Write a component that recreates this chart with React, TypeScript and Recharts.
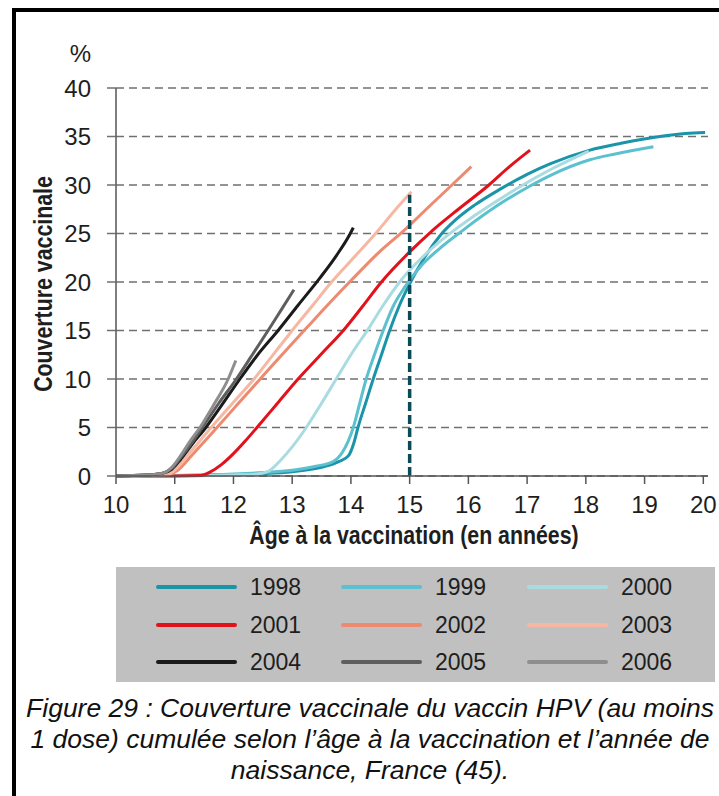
import React from 'react'
import { LineChart, Line, XAxis, YAxis, CartesianGrid, ReferenceLine } from 'recharts'

// birth cohorts and their colours (legend order)
const years = ['1998', '1999', '2000', '2001', '2002', '2003', '2004', '2005', '2006']
const colors = ['#1a94a8', '#5cc0cf', '#a9dce1', '#e2121c', '#ee8a70', '#f6b8a2', '#1b1b1b', '#5e5e5e', '#8e8e8e']

// [age, cumulative coverage %]
const s1998 = [[10, 0], [11, 0.05], [12, 0.15], [12.5, 0.25], [13, 0.45], [13.5, 0.9], [13.8, 1.5], [13.96, 2.1], [14.05, 3.4], [14.12, 5], [14.25, 7.5], [14.38, 10], [14.52, 12.5], [14.66, 15], [14.82, 17.5], [15, 19.8], [15.25, 22.5], [15.52, 24.8], [15.8, 26.5], [16.1, 27.9], [16.55, 29.6], [17, 31.1], [17.4, 32.2], [18.07, 33.6], [18.6, 34.3], [19.26, 35], [19.7, 35.3], [20.03, 35.4]]
const s1999 = [[10, 0], [11, 0.05], [12, 0.2], [12.5, 0.35], [13, 0.6], [13.4, 1.0], [13.7, 1.5], [13.85, 2.4], [14.04, 5], [14.15, 7.5], [14.26, 10], [14.4, 12.5], [14.55, 15], [14.72, 17.5], [14.92, 19.5], [15.2, 21.7], [15.5, 23.4], [15.9, 25.3], [16.5, 27.9], [17.08, 30], [17.4, 31.0], [18.07, 32.6], [18.5, 33.2], [19.15, 33.95]]
const s2000 = [[10, 0], [11, 0], [12, 0.1], [12.4, 0.2], [12.6, 0.5], [12.8, 1.6], [13, 3], [13.24, 5], [13.5, 7.5], [13.75, 10], [14, 12.5], [14.3, 15.2], [14.55, 17.6], [14.83, 20], [15, 21.2], [15.5, 24.1], [15.75, 25.3], [16, 26.4], [16.5, 28.4], [16.87, 29.8], [17.4, 31.6], [18.05, 33.5]]
const s2001 = [[10, 0], [11, 0], [11.45, 0.05], [11.6, 0.4], [11.8, 1.2], [12, 2.3], [12.2, 3.6], [12.4, 5], [12.75, 7.5], [13.1, 10], [13.5, 12.6], [13.87, 15], [14.2, 17.5], [14.52, 20], [15, 23.1], [15.35, 25.1], [15.85, 27.6], [16.35, 30], [16.7, 31.9], [17.05, 33.6]]
const s2002 = [[10, 0], [10.5, 0], [10.9, 0.1], [11.05, 0.6], [11.3, 2.2], [11.72, 5], [12.1, 7.6], [12.5, 10.3], [12.9, 13], [13.25, 15.3], [13.6, 17.6], [14.01, 20.2], [14.45, 22.9], [14.92, 25.4], [15.3, 27.6], [15.72, 30], [16.05, 31.9]]
const s2003 = [[10, 0], [10.5, 0.05], [10.9, 0.2], [11.05, 0.9], [11.3, 2.7], [11.62, 5], [12, 7.6], [12.35, 10], [12.7, 12.7], [13, 15], [13.35, 17.6], [13.67, 20], [14, 22.2], [14.42, 25], [14.75, 27.4], [15.03, 29.3]]
const s2004 = [[10, 0], [10.5, 0.1], [10.8, 0.3], [10.95, 0.7], [11.1, 1.7], [11.3, 3.3], [11.53, 5], [11.8, 7.3], [12.11, 10], [12.4, 12.4], [12.76, 15], [13.1, 17.6], [13.47, 20.4], [13.75, 22.7], [13.98, 24.9], [14.04, 25.6]]
const s2005 = [[10, 0], [10.5, 0.1], [10.8, 0.3], [10.95, 0.8], [11.1, 1.9], [11.3, 3.5], [11.47, 5], [11.75, 7.5], [12.05, 10], [12.3, 12.3], [12.59, 15], [12.8, 17], [13.03, 19.2]]
const s2006 = [[10, 0], [10.5, 0.1], [10.8, 0.3], [10.95, 0.9], [11.1, 2.1], [11.25, 3.5], [11.43, 5], [11.65, 7.2], [11.91, 10], [12.04, 11.9]]

const series = [s1998, s1999, s2000, s2001, s2002, s2003, s2004, s2005, s2006]

const xTicks = [10, 11, 12, 13, 14, 15, 16, 17, 18, 19, 20]
const yTicks = [0, 5, 10, 15, 20, 25, 30, 35, 40]
const cutoffAge = 15
const cutoffTop = 29

const font = "'Liberation Sans', Arial, Helvetica, sans-serif"
const tickStyle = { fontSize: 24, fill: '#1e1e1e', fontFamily: font }
// no narrow face installed, so squeeze the bold one
const titleStyle: React.CSSProperties = {
  position: 'absolute', lineHeight: '30px', fontSize: 26, fontWeight: 'bold', fontFamily: font,
  color: '#1e1e1e', textAlign: 'center', whiteSpace: 'nowrap',
}

const legendCols = [
  { line: 40, text: 134 },
  { line: 225, text: 319 },
  { line: 411, text: 505 },
]
const legendRows = [20, 57.5, 95]

export default function App() {
  return (
    <div style={{ position: 'absolute', left: 0, top: 0, width: 719, height: 796, overflow: 'hidden', background: '#fff' }}>
      <div style={{ position: 'absolute', left: 12, top: 8, width: 780, height: 900, border: '4px solid #000' }} />

      <div style={{ position: 'absolute', left: 40, top: 40, width: 51, lineHeight: '28px', fontSize: 24, fontFamily: font, color: '#1e1e1e', textAlign: 'right' }}>%</div>

      <div style={{ position: 'absolute', left: 0, top: 0 }}>
        <LineChart width={719} height={540} margin={{ top: 88, right: 11, bottom: 0, left: 0 }}>
          <CartesianGrid yAxisId="l" vertical={false} stroke="#707070" strokeWidth={1.5} strokeDasharray="8 5" />
          <XAxis
            dataKey="age"
            type="number"
            domain={[10, 20.08]}
            ticks={xTicks}
            allowDataOverflow
            height={64}
            tickSize={8}
            tickMargin={12}
            tick={tickStyle}
            axisLine={{ stroke: '#555', strokeWidth: 1.5 }}
            tickLine={{ stroke: '#555', strokeWidth: 1.5 }}
          />
          <YAxis
            yAxisId="l"
            domain={[0, 40]}
            ticks={yTicks}
            width={116}
            tickSize={9}
            tickMargin={16}
            tick={tickStyle}
            axisLine={{ stroke: '#555', strokeWidth: 1.5 }}
            tickLine={{ stroke: '#707070', strokeWidth: 1.5 }}
          />
          <YAxis yAxisId="r" orientation="right" domain={[0, 40]} width={0} tick={false} tickLine={false} axisLine={{ stroke: '#555', strokeWidth: 1.5 }} />
          {series.map((pts, i) => (
            <Line
              key={years[i]}
              yAxisId="l"
              data={pts.map(([age, v]) => ({ age, v }))}
              dataKey="v"
              type="monotone"
              stroke={colors[i]}
              strokeWidth={3}
              dot={false}
              activeDot={false}
              isAnimationActive={false}
            />
          ))}
          <ReferenceLine
            yAxisId="l"
            segment={[{ x: cutoffAge, y: 0 }, { x: cutoffAge, y: cutoffTop }]}
            stroke="#0d4a58"
            strokeWidth={3.5}
            strokeDasharray="9 4"
          />
        </LineChart>
      </div>

      <div style={{ ...titleStyle, left: -107.5, top: 269, width: 300, transform: 'rotate(-90deg) scaleX(0.82)' }}>
        Couverture vaccinale
      </div>
      <div style={{ ...titleStyle, left: 118, top: 520, width: 592, transform: 'scaleX(0.82)' }}>
        Âge à la vaccination (en années)
      </div>

      <div style={{ position: 'absolute', left: 116, top: 567, width: 599, height: 115, background: '#c0c0c0' }}>
        {years.map((y, i) => {
          const col = legendCols[i % 3]
          const row = legendRows[Math.floor(i / 3)]
          return (
            <React.Fragment key={y}>
              <div style={{ position: 'absolute', left: col.line, top: row - 2, width: 81, height: 4, borderRadius: 2, background: colors[i] }} />
              <div style={{ position: 'absolute', left: col.text, top: row - 13, lineHeight: '26px', fontSize: 23, fontFamily: font, color: '#1e1e1e' }}>{y}</div>
            </React.Fragment>
          )
        })}
      </div>

      <div style={{ position: 'absolute', left: 16, top: 693, width: 708, fontSize: 26.5, lineHeight: '31.2px', fontStyle: 'italic', fontFamily: font, color: '#111', textAlign: 'center', whiteSpace: 'nowrap' }}>
        <div>Figure 29 : Couverture vaccinale du vaccin HPV (au moins</div>
        <div>1 dose) cumulée selon l’âge à la vaccination et l’année de</div>
        <div>naissance, France (45).</div>
      </div>
    </div>
  )
}
